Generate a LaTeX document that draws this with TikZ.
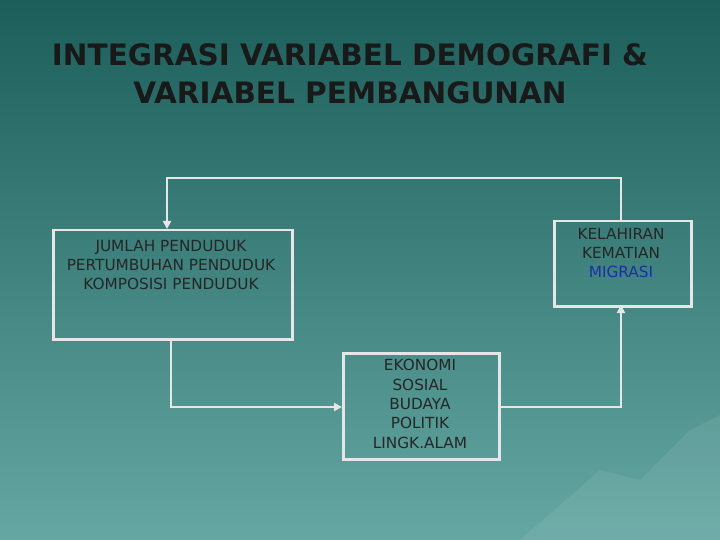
\documentclass[tikz,border=0pt]{standalone}
\usepackage{fontspec}
\setmainfont{DejaVu Sans}
\usetikzlibrary{arrows.meta}
\definecolor{bgtop}{HTML}{1B5E5A}
\definecolor{bgbot}{HTML}{64A7A3}
\definecolor{boxline}{HTML}{E6E6E6}
\definecolor{mig}{HTML}{1A2FA8}
\begin{document}
\begin{tikzpicture}[x=1pt,y=-1pt,
  box/.style={draw=boxline,line width=2.5pt},
  txt/.style={align=center,font=\fontsize{15.3}{19.3}\selectfont,text=black!85,inner sep=0},
  conn/.style={draw=boxline,line width=2.5pt,-{Triangle[length=8pt,width=8pt]}}]
\shade[top color=bgtop,bottom color=bgbot] (0,0) rectangle (720,540);
\useasboundingbox (0,0) rectangle (720,540);
\fill[white,opacity=0.08] (520,540) -- (600,470) -- (640,480) -- (690,430) -- (720,415) -- (720,540) -- cycle;
\node[font=\bfseries\fontsize{29.5}{38}\selectfont,align=center,text=black!90] (title) at (350,74) {INTEGRASI VARIABEL DEMOGRAFI \&\\VARIABEL PEMBANGUNAN};
\node[box,minimum width=239,minimum height=109,anchor=north west] (L) at (52,229) {};
\node[box,minimum width=137,minimum height=85,anchor=north west] (R) at (553,220) {};
\node[box,minimum width=156,minimum height=106,anchor=north west] (B) at (342,352) {};
\node[txt] (lt) at (171,265) {JUMLAH PENDUDUK\\PERTUMBUHAN PENDUDUK\\KOMPOSISI PENDUDUK};
\node[txt] (rt) at (621,253) {KELAHIRAN\\KEMATIAN\\\textcolor{mig}{MIGRASI}};
\node[txt] (bt) at (420,404) {EKONOMI\\SOSIAL\\BUDAYA\\POLITIK\\LINGK.ALAM};
\coordinate (l1) at (171,338); \coordinate (l2) at (171,407);
\coordinate (b1) at (498,407); \coordinate (b2) at (621,407); \coordinate (r1) at (621,305);
\coordinate (t1) at (621,220); \coordinate (t2) at (621,178); \coordinate (t3) at (167,178); \coordinate (t4) at (167,229);
\draw[conn] (l1) -- (l2) -- (B.west|-l2);
\draw[conn] (b1) -- (b2) -- (r1);
\draw[conn] (t1) -- (t2) -- (t3) -- (t4);
\end{tikzpicture}
\end{document}
